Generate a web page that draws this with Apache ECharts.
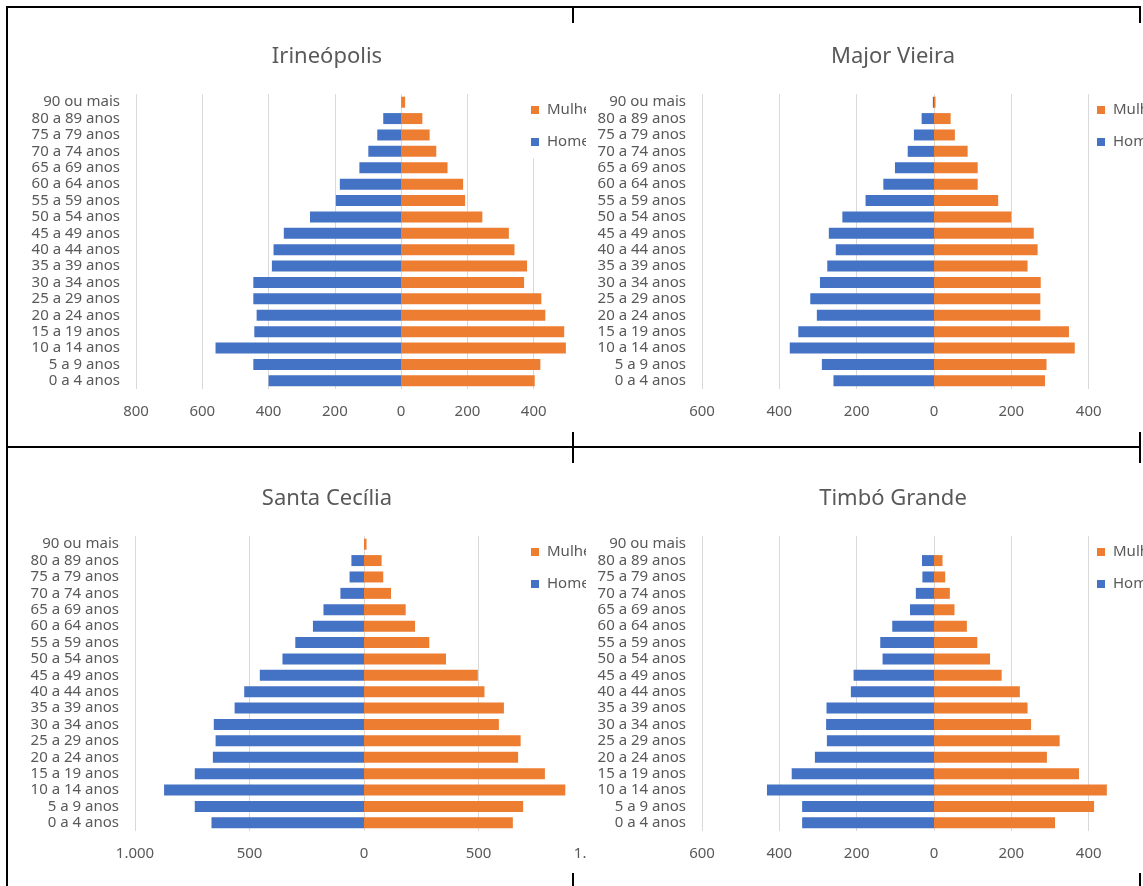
<!DOCTYPE html>
<html>
<head>
<meta charset="utf-8">
<title>Pirâmides etárias</title>
<script src="https://cdn.jsdelivr.net/npm/echarts@6/dist/echarts.min.js"></script>
<style>
  html, body { margin: 0; padding: 0; background: #fff; }
  #page { position: relative; width: 1143px; height: 886px; overflow: hidden; background: #fff; }
  .clip { position: absolute; overflow: hidden; }
  .chart { position: absolute; width: 640px; height: 447px; }
  .rule { position: absolute; background: #000; z-index: 10; }
</style>
</head>
<body>
<div id="page">
  <div class="clip" style="left:573px;top:0;width:570px;height:447px;z-index:1"><div class="chart" id="c2" style="left:0;top:0"></div></div>
  <div class="clip" style="left:573px;top:447px;width:570px;height:439px;z-index:1"><div class="chart" id="c4" style="left:0;top:-5px"></div></div>
  <div class="clip" style="left:0;top:0;width:586px;height:447px;z-index:2"><div class="chart" id="c1" style="left:7px;top:0"></div></div>
  <div class="clip" style="left:0;top:447px;width:586px;height:439px;z-index:2"><div class="chart" id="c3" style="left:7px;top:-5px"></div></div>

  <!-- frame lines -->
  <div class="rule" style="left:6px;top:6px;width:1135px;height:2px"></div>
  <div class="rule" style="left:6px;top:6px;width:2px;height:880px"></div>
  <div class="rule" style="left:6px;top:446px;width:1135px;height:2px"></div>
  <div class="rule" style="left:572px;top:6px;width:2px;height:17px"></div>
  <div class="rule" style="left:572px;top:432px;width:2px;height:31px"></div>
  <div class="rule" style="left:572px;top:873px;width:2px;height:13px"></div>
  <div class="rule" style="left:1139px;top:6px;width:2px;height:17px"></div>
  <div class="rule" style="left:1139px;top:432px;width:2px;height:31px"></div>
  <div class="rule" style="left:1139px;top:873px;width:2px;height:13px"></div>
</div>
<script>
// Age groups, bottom to top
const faixas = ['0 a 4 anos', '5 a 9 anos', '10 a 14 anos', '15 a 19 anos', '20 a 24 anos',
  '25 a 29 anos', '30 a 34 anos', '35 a 39 anos', '40 a 44 anos', '45 a 49 anos',
  '50 a 54 anos', '55 a 59 anos', '60 a 64 anos', '65 a 69 anos', '70 a 74 anos',
  '75 a 79 anos', '80 a 89 anos', '90 ou mais'];

// Irineópolis
const irineopolisHomens   = [400, 446, 560, 443, 436, 446, 446, 390, 385, 354, 275, 197, 185, 126, 99, 72, 54, 0];
const irineopolisMulheres = [403, 420, 497, 492, 435, 423, 371, 380, 342, 325, 245, 193, 187, 140, 106, 86, 64, 12];

// Major Vieira
const majorVieiraHomens   = [260, 290, 373, 351, 303, 320, 295, 276, 254, 272, 237, 177, 131, 101, 68, 52, 32, 3];
const majorVieiraMulheres = [287, 291, 364, 349, 275, 275, 276, 242, 268, 258, 200, 166, 113, 113, 87, 54, 43, 4];

// Santa Cecília
const santaCeciliaHomens   = [666, 739, 873, 739, 660, 648, 656, 565, 523, 455, 356, 300, 223, 177, 103, 63, 55, 0];
const santaCeciliaMulheres = [650, 695, 879, 790, 673, 684, 589, 611, 526, 497, 358, 285, 223, 182, 118, 84, 77, 11];

// Timbó Grande
const timboGrandeHomens   = [341, 341, 432, 368, 308, 277, 279, 278, 215, 208, 133, 139, 108, 62, 47, 30, 31, 0];
const timboGrandeMulheres = [313, 414, 447, 375, 292, 325, 251, 242, 222, 175, 145, 112, 85, 53, 41, 29, 22, 0];

// Value axis settings per municipality
const eixoIrineopolis   = { min: -800, max: 600, interval: 200 };
const eixoMajorVieira   = { min: -600, max: 600, interval: 200 };
const eixoSantaCecilia  = { min: -1000, max: 1000, interval: 500 };
const eixoTimboGrande   = { min: -600, max: 600, interval: 200 };

const AZUL = '#4472C4';
const LARANJA = '#ED7D31';
const TEXTO = '#595959';
const FONTE = '"Noto Sans", "Open Sans", sans-serif';

function formatNumero(v) {
  const a = Math.abs(v);
  return a >= 1000 ? String(a).replace(/\B(?=(\d{3})+(?!\d))/g, '.') : String(a);
}

function piramide(el, titulo, homens, mulheres, eixo, gridWidth, gridLeft) {
  const chart = echarts.init(document.getElementById(el), null, { renderer: 'canvas' });
  chart.setOption({
    animation: false,
    backgroundColor: 'transparent',
    title: {
      text: titulo,
      left: 'center',
      top: 41,
      textStyle: { fontFamily: FONTE, fontSize: 22, fontWeight: 'normal', color: TEXTO }
    },
    legend: {
      data: ['Mulheres', 'Homens'],
      orient: 'vertical',
      left: 521,
      top: 94,
      padding: [8, 20, 8, 3],
      itemGap: 16,
      itemWidth: 8,
      itemHeight: 8,
      icon: 'rect',
      backgroundColor: '#fff',
      textStyle: { fontFamily: FONTE, fontSize: 15, color: TEXTO, lineHeight: 16, padding: [0, 0, 0, 3] }
    },
    grid: { left: gridLeft, top: 94, width: gridWidth, height: 295 },
    xAxis: {
      type: 'value',
      min: eixo.min,
      max: eixo.max,
      interval: eixo.interval,
      axisLine: { show: false },
      axisTick: { show: false },
      splitLine: { show: true, lineStyle: { color: '#d9d9d9', width: 1 } },
      axisLabel: { color: TEXTO, fontFamily: FONTE, fontSize: 15, margin: 15, formatter: formatNumero }
    },
    yAxis: {
      type: 'category',
      data: faixas,
      axisLine: { show: false },
      axisTick: { show: false },
      axisLabel: { color: TEXTO, fontFamily: FONTE, fontSize: 15, margin: 16, interval: 0 }
    },
    series: [
      {
        name: 'Mulheres', type: 'bar', stack: 'total',
        barCategoryGap: '33%',
        itemStyle: { color: LARANJA },
        data: mulheres
      },
      {
        name: 'Homens', type: 'bar', stack: 'total',
        barCategoryGap: '33%',
        itemStyle: { color: AZUL },
        data: homens.map(v => -v)
      }
    ]
  });
}

piramide('c1', 'Irineópolis', irineopolisHomens, irineopolisMulheres, eixoIrineopolis, 464, 129);
piramide('c2', 'Major Vieira', majorVieiraHomens, majorVieiraMulheres, eixoMajorVieira, 464, 129);
piramide('c3', 'Santa Cecília', santaCeciliaHomens, santaCeciliaMulheres, eixoSantaCecilia, 458, 128);
piramide('c4', 'Timbó Grande', timboGrandeHomens, timboGrandeMulheres, eixoTimboGrande, 464, 129);
</script>
</body>
</html>
